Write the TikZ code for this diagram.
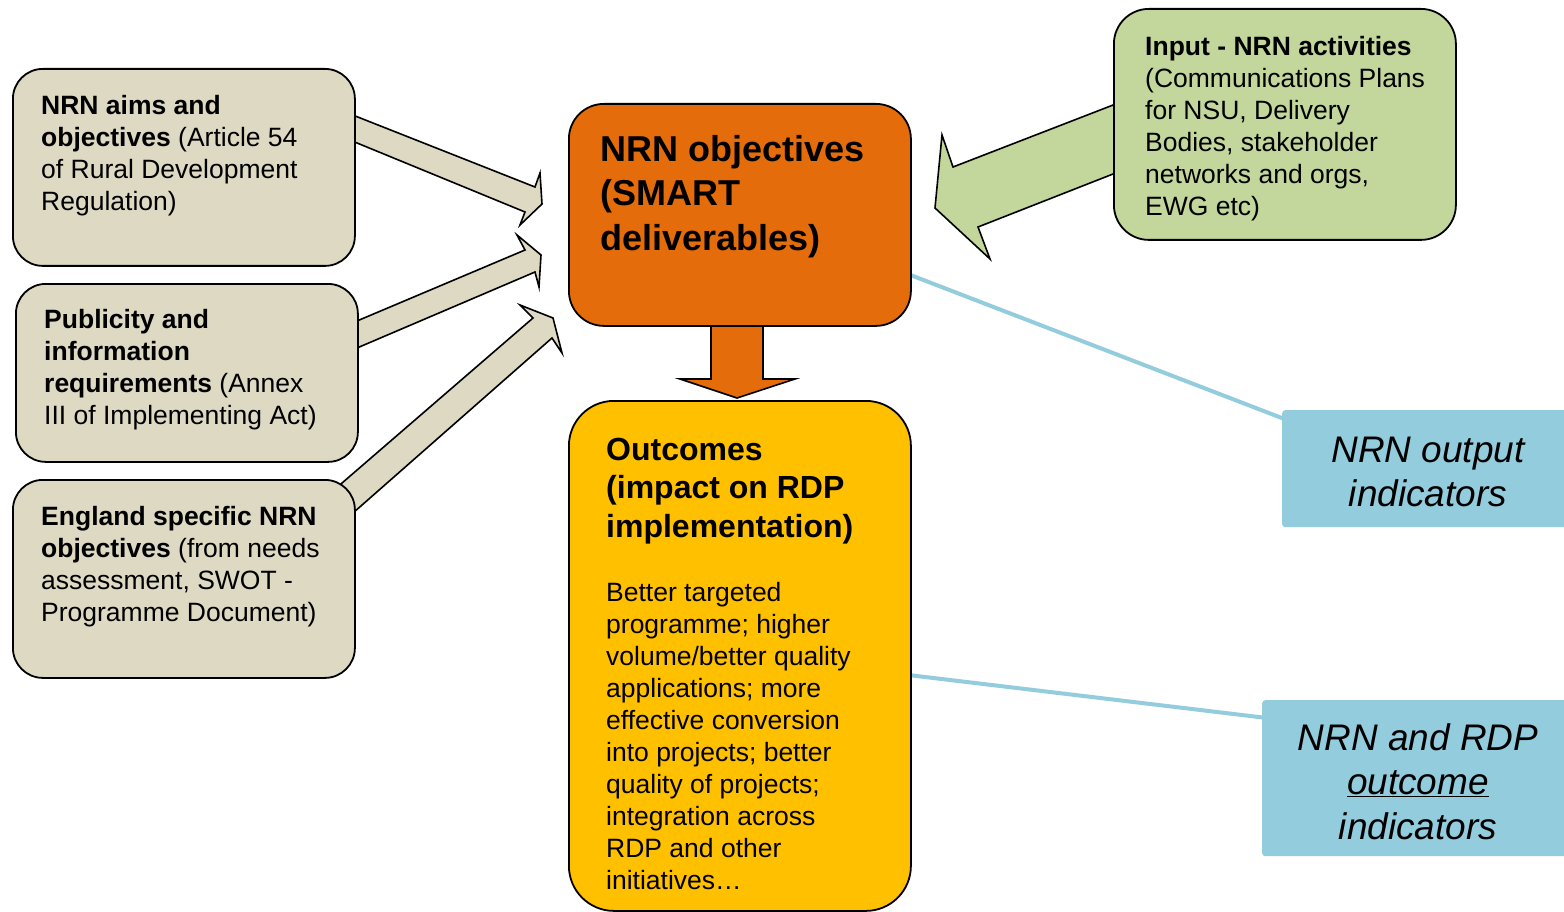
\documentclass[tikz,border=0pt]{standalone}
\usepackage{fontspec}
\setmainfont{Liberation Sans}
\usetikzlibrary{calc}
\definecolor{beige}{HTML}{DDD9C3}
\definecolor{orng}{HTML}{E46C0A}
\definecolor{yell}{HTML}{FFC000}
\definecolor{grn}{HTML}{C3D69B}
\definecolor{lblue}{HTML}{93CDDD}
\newcommand{\bodyfont}{\fontsize{26.5pt}{32pt}\selectfont}
\newcommand{\titlefont}{\fontsize{36pt}{44.5pt}\selectfont\bfseries}
\newcommand{\headfont}{\fontsize{32pt}{38.5pt}\selectfont\bfseries}
\newcommand{\indfont}{\fontsize{37pt}{44.5pt}\selectfont\itshape}
\begin{document}
\begin{tikzpicture}[x=1pt,y=-1pt,
  boxstyle/.style={draw=black, line width=1.8pt, rounded corners=#1, anchor=north west, inner sep=0pt},
  blockarrow/.style={draw=black, line width=1.6pt, line join=miter},
  bline/.style={draw=lblue, line width=4pt},
  indbox/.style={fill=lblue, rounded corners=3pt, anchor=north west, inner sep=0pt},
  txt/.style={inner sep=0pt, align=left, anchor=north west, font=\bodyfont},
  indtxt/.style={inner sep=0pt, align=center, anchor=north, font=\indfont}]
\clip (0,0) rectangle (1564,912);
\fill[white] (0,0) rectangle (1564,912);

% named corner points of the central boxes, used by the indicator lines
\coordinate (objSE) at (910,325);
\coordinate (outcNE) at (910,400);
\coordinate (outNW) at (1282,410);
\coordinate (rdpNW) at (1262,700);

% indicator lines (drawn first, boxes cover their ends)
\draw[bline] ($(objSE)+(-10,-54)$) -- ($(outNW)+(5,10)$);
\draw[bline] ($(outcNE)+(-10,274)$) -- ($(rdpNW)+(5,18)$);

% block arrows (drawn behind the boxes)
\draw[blockarrow, fill=beige] (340,110) -- (535,187) -- (540,173) -- (542,204) -- (520,225) -- (525,212) -- (340,136) -- cycle;
\draw[blockarrow, fill=beige] (342,327.3) -- (525,250) -- (517,235) -- (541,255) -- (539,287) -- (535,272) -- (342,354.4) -- cycle;
\draw[blockarrow, fill=beige] (330,493.4) -- (533,318) -- (520,305) -- (553,318) -- (562,353) -- (552,338) -- (340,524.4) -- cycle;
\draw[blockarrow, fill=grn] (1125,100.4) -- (953,167) -- (942,135) -- (935,208) -- (990,259) -- (978,227) -- (1125,169.3) -- cycle;
\draw[blockarrow, fill=orng] (711,315) -- (711,379) -- (680,379) -- (737,398) -- (795,379) -- (763,379) -- (763,315) -- cycle;

% boxes
\node[boxstyle=30pt, fill=beige, minimum width=342pt, minimum height=197pt] (aims) at (12,68) {};
\node[boxstyle=30pt, fill=beige, minimum width=342pt, minimum height=178pt] (pub) at (15,283) {};
\node[boxstyle=30pt, fill=beige, minimum width=342pt, minimum height=198pt] (eng) at (12,479) {};
\node[boxstyle=35pt, fill=grn, minimum width=342pt, minimum height=231pt] (inp) at (1113,8) {};

% indicator boxes
\node[indbox, minimum width=320pt, minimum height=117pt] (out) at (outNW) {};
\node[indbox, minimum width=340pt, minimum height=156pt] (rdp) at (rdpNW) {};

\node[boxstyle=35pt, fill=orng, minimum width=342pt, minimum height=222pt] (obj) at (568,103) {};
\node[boxstyle=45pt, fill=yell, minimum width=342pt, minimum height=510pt] (outc) at (568,400) {};

% texts
\node[txt] (taims) at (41,91.6) {\strut\textbf{NRN aims and}\\\textbf{objectives} (Article 54\\of Rural Development\\Regulation)};
\node[txt] (tpub) at (44,305.6) {\strut\textbf{Publicity and}\\\textbf{information}\\\textbf{requirements} (Annex\\III of Implementing Act)};
\node[txt] (teng) at (41,502.6) {\strut\textbf{England specific NRN}\\\textbf{objectives} (from needs\\assessment, SWOT -\\Programme Document)};
\node[txt] (tinp) at (1145,32.6) {\strut\textbf{Input - NRN activities}\\(Communications Plans\\for NSU, Delivery\\Bodies, stakeholder\\networks and orgs,\\EWG etc)};
\node[txt, font=\titlefont] (tobj) at (600,129.85) {\strut NRN objectives\\(SMART\\deliverables)};
\node[txt, font=\headfont] (thead) at (606,433.05) {\strut Outcomes\\(impact on RDP\\implementation)};
\node[txt] (tbody) at (606,578.6) {\strut Better targeted\\programme; higher\\volume/better quality\\applications; more\\effective conversion\\into projects; better\\quality of projects;\\integration across\\RDP and other\\initiatives…};
\node[indtxt] (tout) at (1428,430.85) {\strut NRN output\\indicators};
\node[indtxt] (trdp) at (1418,718.85) {\strut NRN and RDP\\\underline{outcome}\\indicators};
\end{tikzpicture}
\end{document}
